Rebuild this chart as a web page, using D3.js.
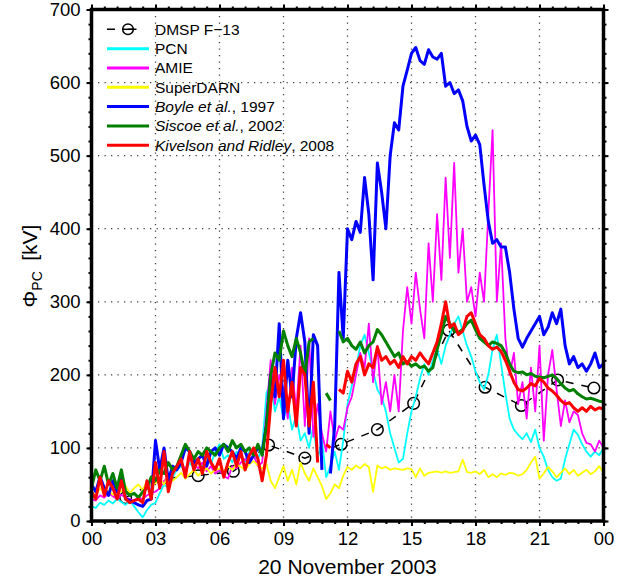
<!DOCTYPE html>
<html><head><meta charset="utf-8">
<script src="https://cdn.jsdelivr.net/npm/d3@7"></script>
<style>
body{margin:0;background:#fff;}
text{font-family:"Liberation Sans",Arial,Helvetica,sans-serif;}
</style></head>
<body><svg id="c" width="633" height="582"></svg>
<script>
// ---- data (hours of 20 November 2003, sampled every 0.2 h) ----
const sampleStep = 0.2;
const xTickValues = [0,3,6,9,12,15,18,21,24];
const xTickLabels = ["00","03","06","09","12","15","18","21","00"];
const yTickValues = [0,100,200,300,400,500,600,700];

const dmspHours = [1.6,3.3,5.0,6.65,8.3,10.0,11.7,13.4,15.1,16.75,18.45,20.15,21.85,23.55];
const dmspValues = [32,58,62,68,104,86,105,125,161,261,183,158,193,182];

const superdarn = [
40,35,45,38,42, 36,44,40,48,38, 45,50,42,55,48, 52,58,50,62,55,
60,66,58,64,70, 62,68,72,65,70, 72,68,75,70,78, 74,70,78,82,76,
72,78,55,45,60, 75,55,70,50,80, 65,55,72,60,48, 30,38,50,45,62,
74,70,76,72,78, 74,40,76,72,74, 70,72,71,70,72, 71,60,72,62,66,
67,68,66,68,66, 67,68,84,67,66, 68,64,70,60,64, 60,65,63,66,65,
62,64,70,80,88, 58,65,74,68,60, 66,72,64,70,62, 66,70,64,68,75, 66];

const pcn = [
20,18,25,22,28, 24,30,26,22,28, 20,12,5,15,22, 25,38,50,45,60,
70,75,68,80,72, 82,75,88,78,95, 105,85,90,80,95, 88,82,95,90,85,
100,175,190,150,170, 140,160,125,145,110, 120,100,130,85,110, 60,75,95,70,110,
160,185,210,240,255, 230,205,180,170,150, 120,100,80,85,120, 150,170,195,215,200,
220,235,215,240,255, 270,280,260,240,225, 205,190,180,200,235, 255,215,175,140,125,
118,112,120,108,125, 100,88,70,60,55, 58,85,105,125,118, 105,95,88,95,90, 100];

const amie = [
30,28,35,32,38, 34,30,36,32,30, 28,32,30,35,38, 40,45,55,60,70,
75,80,70,85,78, 72,80,68,75,65, 70,62,58,75,72, 80,85,78,90,75,
80,150,220,160,200, 180,140,210,150,240, 130,250,115,160,120, 95,150,110,130,125,
155,170,200,230,210, 270,190,240,160,190, 150,200,150,260,320, 270,340,290,250,380,
300,420,330,470,360, 490,340,400,300,320, 280,340,300,420,535, 300,380,250,200,230,
160,190,140,210,150, 240,110,200,234,180, 130,165,135,150,145, 120,107,105,95,110, 100];

const boyle = [
50,40,60,45,35, 55,40,60,30,28, 25,22,20,28,30, 110,70,100,55,75,
70,80,100,95,80, 85,90,75,95,100, 90,105,100,95,85, 100,95,80,90,100,
95,130,200,170,270, 140,220,170,250,285, 245,120,255,240,70, null,65,130,340,250,
400,385,410,395,470, 420,330,490,450,400, 500,545,535,595,617, 640,648,630,625,645,
635,632,640,595,600, 585,590,575,540,520, 528,515,460,410,380, 385,375,375,340,290,
250,238,250,260,270, 280,255,265,285,270, 290,240,215,225,210, 215,205,215,230,210, 215];

const siscoe = [
45,70,55,75,50, 65,45,70,40,35, 38,32,40,45,60, 55,70,65,80,70,
75,90,105,95,85, 95,90,100,95,90, 100,105,95,110,100, 105,95,100,90,105,
90,130,200,230,220, 260,240,225,250,230, 200,245,250,null,null, 175,165,null,260,245,
250,240,235,245,230, 240,245,262,255,245, 235,225,230,215,218, 212,215,210,212,205,
210,235,255,280,270, 260,258,262,270,275, 262,250,245,240,245, 243,240,230,215,205,
203,204,200,202,198, 197,196,198,200,195, 188,182,178,180,174, 170,167,168,166,164, 163];

const kivelson = [
40,30,60,35,55, 45,30,55,30,25, 28,30,25,55,30, 80,45,95,40,65,
75,85,60,95,70, 85,65,95,80,70, 85,60,80,95,75, 95,70,90,100,85,
55,90,160,210,170, 220,150,190,130,210, 200,130,190,80,null, 105,100,null,180,175,
205,190,215,225,200, 215,210,238,220,225, 215,220,210,225,215, 225,220,230,222,215,
230,245,270,300,265, 270,255,260,280,285, 270,255,250,240,235, 238,232,220,205,190,
180,178,182,188,185, 195,190,182,178,172, 165,160,162,155,150, 155,150,157,152,155, 153];

const seriesNames = ["PCN","AMIE","SuperDARN","Boyle","Siscoe","Kivelson"];
const seriesColors = ["#00FFFF","#FF00FF","#FFFF00","#0000FF","#008000","#FF0000"];
const seriesWidths = [1.8,1.8,1.8,3,3,3];

// ---- layout ----
const svg = d3.select("#c");
const L=91.5, R=603.5, T=9.5, B=521;
const x = d3.scaleLinear().domain([0,24]).range([L,R]);
const y = d3.scaleLinear().domain([0,700]).range([B,T]);

svg.append("defs").append("clipPath").attr("id","clip")
  .append("rect").attr("x",L).attr("y",T).attr("width",R-L).attr("height",B-T);

// grid
const grid = svg.append("g");
xTickValues.slice(1,-1).forEach(v=>{
  grid.append("line").attr("x1",x(v)).attr("x2",x(v)).attr("y1",T).attr("y2",B)
    .attr("stroke","#444").attr("stroke-width",1.3).attr("stroke-dasharray","1.3,5.2");
});
yTickValues.slice(1,-1).forEach(v=>{
  grid.append("line").attr("x1",L).attr("x2",R).attr("y1",y(v)).attr("y2",y(v))
    .attr("stroke","#444").attr("stroke-width",1.3).attr("stroke-dasharray","1.3,5.2");
});

const plot = svg.append("g").attr("clip-path","url(#clip)");
// DMSP (drawn underneath)
const dmsp = dmspHours.map((h,i)=>({t:h,v:dmspValues[i]}));
plot.selectAll("circle.d").data(dmsp).enter().append("circle")
  .attr("cx",d=>x(d.t)).attr("cy",d=>y(d.v)).attr("r",5.8)
  .attr("fill","none").attr("stroke","#000").attr("stroke-width",1.5);
plot.append("path").datum(dmsp).attr("d",d3.line().x(d=>x(d.t)).y(d=>y(d.v)))
  .attr("fill","none").attr("stroke","#000").attr("stroke-width",1.5).attr("stroke-dasharray","8,8");

// series
const toPts = arr => arr.map((v,i)=>({t:i*sampleStep, v:v}));
const line = d3.line().defined(d=>d.v!==null).x(d=>x(d.t)).y(d=>y(d.v));
const allSeries = [pcn, amie, superdarn, boyle, siscoe, kivelson];
allSeries.forEach((s,k)=>{
  plot.append("path").datum(toPts(s)).attr("d",line).attr("fill","none")
    .attr("stroke",seriesColors[k]).attr("stroke-width",seriesWidths[k])
    .attr("stroke-linejoin","round");
});

// axes
const ax = svg.append("g");
const xAxisB = d3.axisBottom(x).tickValues(xTickValues).tickFormat((d,i)=>xTickLabels[i]).tickSize(5).tickPadding(6);
const yAxisL = d3.axisLeft(y).tickValues(yTickValues).tickSize(5).tickPadding(6);
ax.append("g").attr("transform",`translate(0,${B})`).call(xAxisB);
ax.append("g").attr("transform",`translate(${L},0)`).call(yAxisL);
ax.append("g").attr("transform",`translate(0,${T})`).call(d3.axisTop(x).tickValues(xTickValues).tickSize(5).tickFormat(""));
ax.append("g").attr("transform",`translate(${R},0)`).call(d3.axisRight(y).tickValues(yTickValues).tickSize(5).tickFormat(""));
// minor ticks
const xMinor = d3.range(0,24.001,0.6);
const yMinor = d3.range(0,700.1,20);
ax.append("g").attr("transform",`translate(0,${B})`).call(d3.axisBottom(x).tickValues(xMinor).tickSize(3).tickFormat(""));
ax.append("g").attr("transform",`translate(0,${T})`).call(d3.axisTop(x).tickValues(xMinor).tickSize(3).tickFormat(""));
ax.append("g").attr("transform",`translate(${L},0)`).call(d3.axisLeft(y).tickValues(yMinor).tickSize(3).tickFormat(""));
ax.append("g").attr("transform",`translate(${R},0)`).call(d3.axisRight(y).tickValues(yMinor).tickSize(3).tickFormat(""));
ax.selectAll(".domain").remove();
ax.selectAll(".tick line").attr("stroke","#000").attr("stroke-width",2);
ax.selectAll(".tick text").attr("font-size","18.5px").attr("fill","#000")
  .style("font-family","'Liberation Sans',Arial,sans-serif");
svg.append("rect").attr("x",L).attr("y",T).attr("width",R-L).attr("height",B-T)
  .attr("fill","none").attr("stroke","#000").attr("stroke-width",3.5);

// axis titles
svg.append("text").attr("x",(L+R)/2).attr("y",574).attr("text-anchor","middle")
  .attr("font-size","21px").text("20 November 2003");
const yl = svg.append("text").attr("transform","translate(37,266) rotate(-90)")
  .attr("text-anchor","middle").attr("font-size","21px");
yl.append("tspan").text("Φ");
yl.append("tspan").attr("font-size","14px").attr("dy","5").text("PC");
yl.append("tspan").attr("dy","-5").text("\u2002[kV]");

// legend
const legendLabels = ["DMSP F\u221213","PCN","AMIE","SuperDARN",
  [["Boyle et al.",true],[", 1997",false]],
  [["Siscoe et al.",true],[", 2002",false]],
  [["Kivelson and Ridley",true],[", 2008",false]]];
const leg = svg.append("g");
const lx0=107, lx1=149, ltx=155, ly0=29.3, ldy=19.33;
legendLabels.forEach((lab,i)=>{
  const yy = ly0 + i*ldy;
  if(i===0){
    leg.append("line").attr("x1",lx0).attr("x2",lx1).attr("y1",yy).attr("y2",yy)
      .attr("stroke","#000").attr("stroke-width",1.5).attr("stroke-dasharray","8,13.5");
    leg.append("circle").attr("cx",(lx0+lx1)/2).attr("cy",yy).attr("r",5.3)
      .attr("fill","none").attr("stroke","#000").attr("stroke-width",1.5);
    leg.append("line").attr("x1",(lx0+lx1)/2-5).attr("x2",(lx0+lx1)/2+5).attr("y1",yy).attr("y2",yy)
      .attr("stroke","#000").attr("stroke-width",1.5);
  } else {
    leg.append("line").attr("x1",lx0).attr("x2",lx1).attr("y1",yy).attr("y2",yy)
      .attr("stroke",seriesColors[i-1]).attr("stroke-width",3);
  }
  const t = leg.append("text").attr("x",ltx).attr("y",yy+5.5).attr("font-size","15.5px");
  if(typeof lab==="string") t.text(lab);
  else lab.forEach(([s,it])=>t.append("tspan").attr("font-style",it?"italic":"normal").text(s));
});
</script></body></html>
